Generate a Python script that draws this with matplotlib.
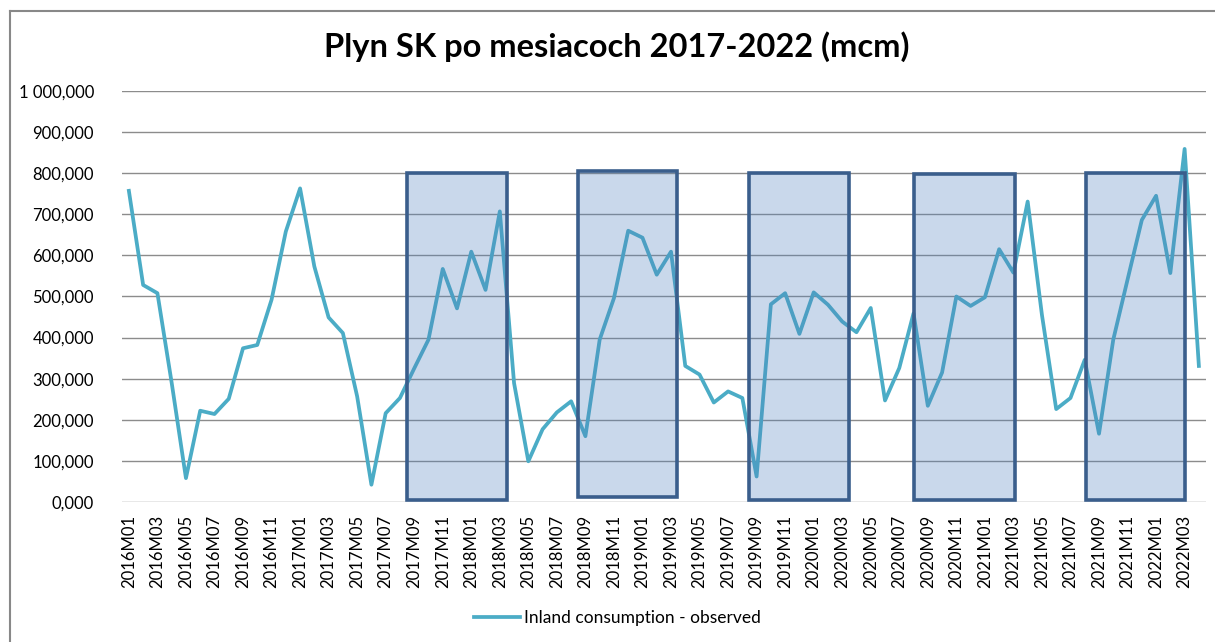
import matplotlib.pyplot as plt
from matplotlib.patches import Rectangle
from matplotlib.lines import Line2D
from matplotlib.ticker import FuncFormatter

# monthly inland gas consumption (values as shown on chart)
months = [f"{y}M{m:02d}" for y in range(2016, 2023) for m in range(1, 13)][:76]
consumption = [
    757, 528, 508, 290, 58, 222, 214, 251, 374, 382, 492, 658,
    763, 573, 449, 411, 257, 42, 216, 253, 325, 395, 567, 471,
    609, 516, 707, 289, 99, 177, 218, 245, 160, 395, 496, 660,
    643, 553, 609, 331, 310, 242, 269, 253, 62, 481, 508, 409,
    510, 480, 439, 413, 472, 247, 326, 459, 234, 315, 500, 477,
    498, 615, 558, 731, 455, 226, 253, 346, 166, 395, 541, 686,
    745, 557, 859, 331,
]
consumption = [v * 1000 for v in consumption]

# highlighted heating seasons (category positions, values)
box_start = [19.5, 31.5, 43.5, 55.0, 67.1]
box_end = [26.5, 38.4, 50.5, 62.1, 74.0]
box_top = [800000, 805000, 800000, 797000, 800000]
box_bottom = [6000, 12000, 6000, 4000, 6000]

plt.rcParams['font.family'] = ['Lato', 'DejaVu Sans']

fig = plt.figure(figsize=(12.15, 6.42), dpi=100)
ax = fig.add_axes([0.1002, 0.2181, 0.8924, 0.6402])

x = list(range(len(months)))
ax.plot(x, consumption, color='#4BACC6', lw=2.7, zorder=2,
        label='Inland consumption - observed')

for x0, x1, y0, y1 in zip(box_start, box_end, box_bottom, box_top):
    ax.add_patch(Rectangle((x0, y0), x1 - x0, y1 - y0,
                           facecolor=(0.31, 0.506, 0.741, 0.3),
                           edgecolor='#3A5E8C', lw=2.6, zorder=3))

ax.set_xlim(-0.5, len(months) - 0.5)
ax.set_ylim(0, 1000000)
ax.set_yticks(range(0, 1000001, 100000))
ax.yaxis.set_major_formatter(FuncFormatter(
    lambda v, p: f"{v/1000:,.3f}".replace(",", " ").replace(".", ",")))
ax.set_xticks(x[::2])
ax.set_xticklabels(months[::2], rotation=90, fontsize=12)
ax.tick_params(axis='y', labelsize=12, length=0, pad=20)
ax.tick_params(axis='x', length=0, pad=9)
ax.grid(axis='y', color='#8C8C8C', lw=1)
ax.set_axisbelow(True)
for s in ax.spines.values():
    s.set_visible(False)

fig.text(0.508, 1 - 47 / 642, 'Plyn SK po mesiacoch 2017-2022 (mcm)',
         ha='center', va='center', fontsize=23.5, fontweight='bold')

fig.legend(loc='center', bbox_to_anchor=(0.508, 1 - 618 / 642), frameon=False,
           fontsize=12.5, handlelength=2.7, handletextpad=0.2)

# chart area border
fig.add_artist(Line2D([10 / 1215, 10 / 1215], [0, 1 - 11 / 642], color='#888888', lw=1.5))
fig.add_artist(Line2D([10 / 1215, 1], [1 - 11 / 642, 1 - 11 / 642], color='#888888', lw=1.5))

fig.savefig('out.png', dpi=100)
